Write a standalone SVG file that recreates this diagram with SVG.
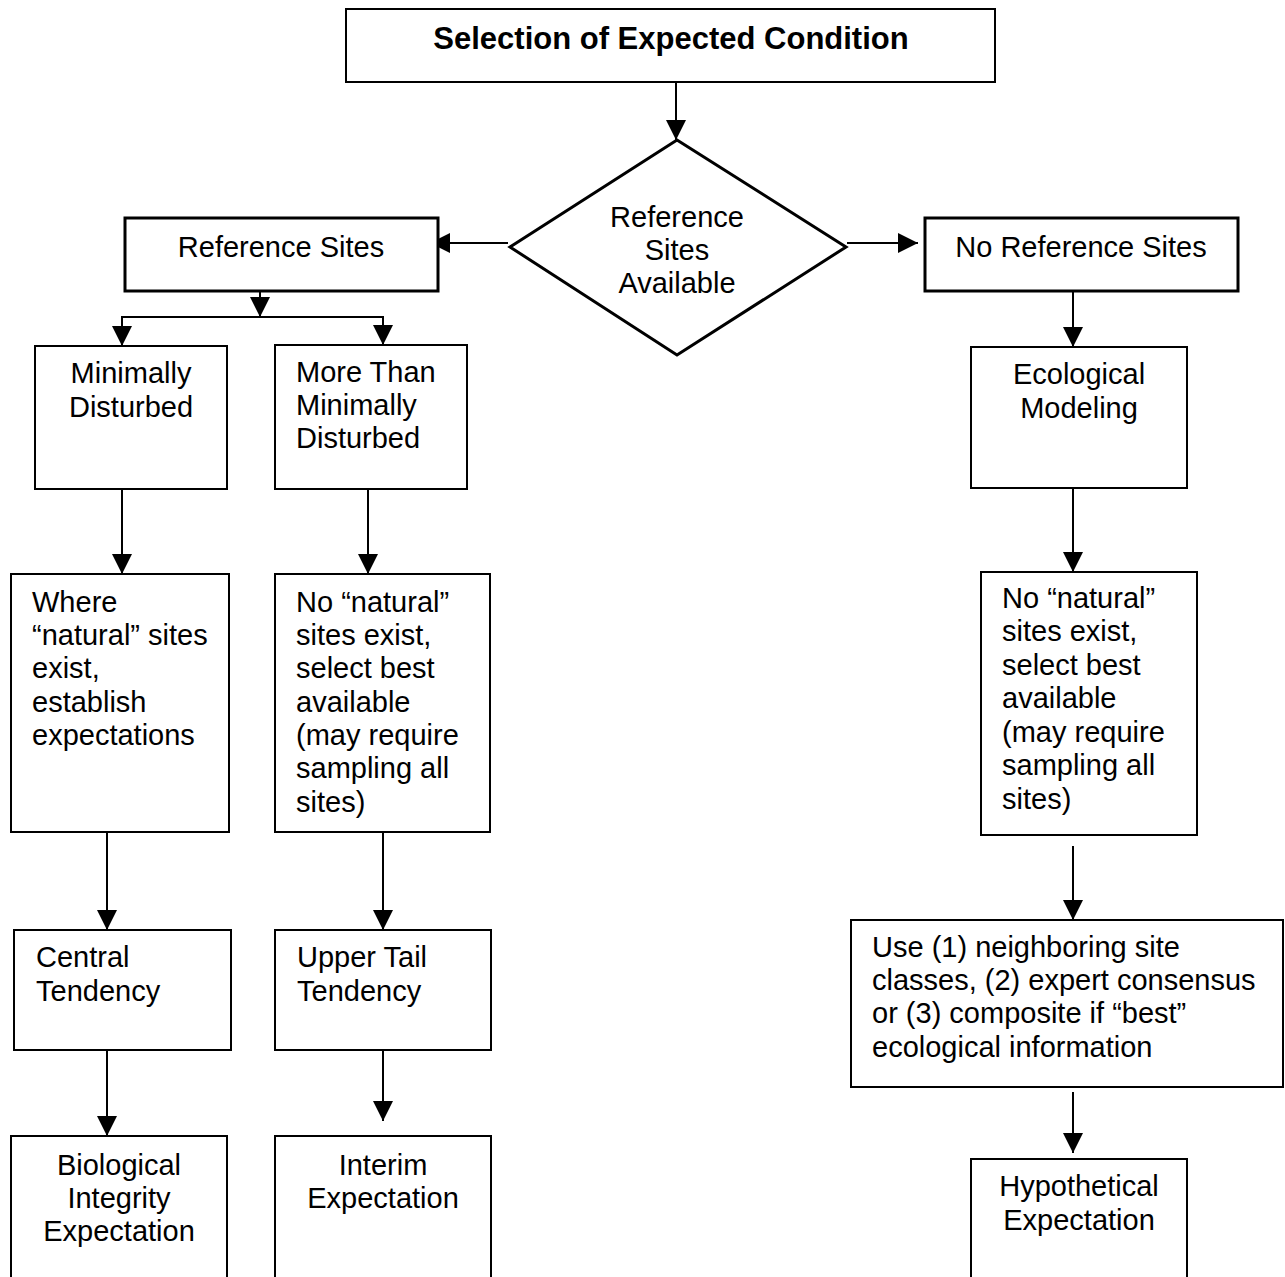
<svg xmlns="http://www.w3.org/2000/svg" width="1285" height="1277" viewBox="0 0 1285 1277">
<defs>
<marker id="ah" markerUnits="userSpaceOnUse" markerWidth="20" markerHeight="20" refX="20" refY="10" orient="auto">
<path d="M0,0 L20,10 L0,20 z" fill="#000"/>
</marker>
<style>
.box{fill:#fff;stroke:#000;stroke-width:2}
.thick{fill:#fff;stroke:#000;stroke-width:3}
.t{font-family:"Liberation Sans",Arial,sans-serif;font-size:29px;fill:#000}
.c{text-anchor:middle}
.title{font-family:"Liberation Sans",Arial,sans-serif;font-size:31px;font-weight:bold;fill:#000;text-anchor:middle}
.con{fill:none;stroke:#000;stroke-width:2}
</style>
</defs>
<rect width="1285" height="1277" fill="#fff"/>
<g id="connectors">
<line class="con" x1="676" y1="82" x2="676" y2="140" marker-end="url(#ah)"/>
<line class="con" x1="508" y1="243" x2="430" y2="243" marker-end="url(#ah)"/>
<line class="con" x1="847" y1="243" x2="918" y2="243" marker-end="url(#ah)"/>
<line class="con" x1="260" y1="291" x2="260" y2="317" marker-end="url(#ah)"/>
<polyline class="con" points="122,346 122,317 383,317 383,345"/>
<line class="con" x1="122" y1="320" x2="122" y2="346" marker-end="url(#ah)"/>
<line class="con" x1="383" y1="320" x2="383" y2="345" marker-end="url(#ah)"/>
<line class="con" x1="122" y1="482" x2="122" y2="574" marker-end="url(#ah)"/>
<line class="con" x1="368" y1="482" x2="368" y2="574" marker-end="url(#ah)"/>
<line class="con" x1="1073" y1="288" x2="1073" y2="347" marker-end="url(#ah)"/>
<line class="con" x1="1073" y1="482" x2="1073" y2="572" marker-end="url(#ah)"/>
<line class="con" x1="107" y1="825" x2="107" y2="930" marker-end="url(#ah)"/>
<line class="con" x1="383" y1="825" x2="383" y2="930" marker-end="url(#ah)"/>
<line class="con" x1="1073" y1="846" x2="1073" y2="920" marker-end="url(#ah)"/>
<line class="con" x1="107" y1="1050" x2="107" y2="1136" marker-end="url(#ah)"/>
<line class="con" x1="383" y1="1050" x2="383" y2="1121" marker-end="url(#ah)"/>
<line class="con" x1="1073" y1="1092" x2="1073" y2="1153" marker-end="url(#ah)"/>
</g>
<g id="title">
<rect class="box" x="346" y="9" width="649" height="73"/>
<text class="title" x="671" y="49">Selection of Expected Condition</text>
</g>
<g id="decision">
<polygon class="thick" points="677,140 846,247 677,355 510,247"/>
<text class="t c" x="677" y="227">Reference</text>
<text class="t c" x="677" y="260">Sites</text>
<text class="t c" x="677" y="293">Available</text>
</g>
<g id="refsites">
<rect class="thick" x="125" y="218" width="313" height="73"/>
<text class="t c" x="281" y="257">Reference Sites</text>
</g>
<g id="norefsites">
<rect class="thick" x="925" y="218" width="313" height="73"/>
<text class="t c" x="1081" y="257">No Reference Sites</text>
</g>
<g id="minimally">
<rect class="box" x="35" y="346" width="192" height="143"/>
<text class="t c" x="131" y="383">Minimally</text>
<text class="t c" x="131" y="417">Disturbed</text>
</g>
<g id="morethan">
<rect class="box" x="275" y="345" width="192" height="144"/>
<text class="t" x="296" y="382">More Than</text>
<text class="t" x="296" y="415">Minimally</text>
<text class="t" x="296" y="448">Disturbed</text>
</g>
<g id="ecological">
<rect class="box" x="971" y="347" width="216" height="141"/>
<text class="t c" x="1079" y="384">Ecological</text>
<text class="t c" x="1079" y="418">Modeling</text>
</g>
<g id="where">
<rect class="box" x="11" y="574" width="218" height="258"/>
<text class="t" x="32" y="612">Where</text>
<text class="t" x="32" y="645">“natural” sites</text>
<text class="t" x="32" y="678">exist,</text>
<text class="t" x="32" y="712">establish</text>
<text class="t" x="32" y="745">expectations</text>
</g>
<g id="nonatural-left">
<rect class="box" x="275" y="574" width="215" height="258"/>
<text class="t" x="296" y="612">No “natural”</text>
<text class="t" x="296" y="645">sites exist,</text>
<text class="t" x="296" y="678">select best</text>
<text class="t" x="296" y="712">available</text>
<text class="t" x="296" y="745">(may require</text>
<text class="t" x="296" y="778">sampling all</text>
<text class="t" x="296" y="812">sites)</text>
</g>
<g id="nonatural-right">
<rect class="box" x="981" y="572" width="216" height="263"/>
<text class="t" x="1002" y="608">No “natural”</text>
<text class="t" x="1002" y="641">sites exist,</text>
<text class="t" x="1002" y="675">select best</text>
<text class="t" x="1002" y="708">available</text>
<text class="t" x="1002" y="742">(may require</text>
<text class="t" x="1002" y="775">sampling all</text>
<text class="t" x="1002" y="809">sites)</text>
</g>
<g id="central">
<rect class="box" x="14" y="930" width="217" height="120"/>
<text class="t" x="36" y="967">Central</text>
<text class="t" x="36" y="1001">Tendency</text>
</g>
<g id="uppertail">
<rect class="box" x="275" y="930" width="216" height="120"/>
<text class="t" x="297" y="967">Upper Tail</text>
<text class="t" x="297" y="1001">Tendency</text>
</g>
<g id="use">
<rect class="box" x="851" y="920" width="432" height="167"/>
<text class="t" x="872" y="957">Use (1) neighboring site</text>
<text class="t" x="872" y="990">classes, (2) expert consensus</text>
<text class="t" x="872" y="1023">or (3) composite if “best”</text>
<text class="t" x="872" y="1057">ecological information</text>
</g>
<g id="biological">
<rect class="box" x="11" y="1136" width="216" height="160"/>
<text class="t c" x="119" y="1175">Biological</text>
<text class="t c" x="119" y="1208">Integrity</text>
<text class="t c" x="119" y="1241">Expectation</text>
</g>
<g id="interim">
<rect class="box" x="275" y="1136" width="216" height="160"/>
<text class="t c" x="383" y="1175">Interim</text>
<text class="t c" x="383" y="1208">Expectation</text>
</g>
<g id="hypothetical">
<rect class="box" x="971" y="1159" width="216" height="140"/>
<text class="t c" x="1079" y="1196">Hypothetical</text>
<text class="t c" x="1079" y="1230">Expectation</text>
</g>
</svg>
